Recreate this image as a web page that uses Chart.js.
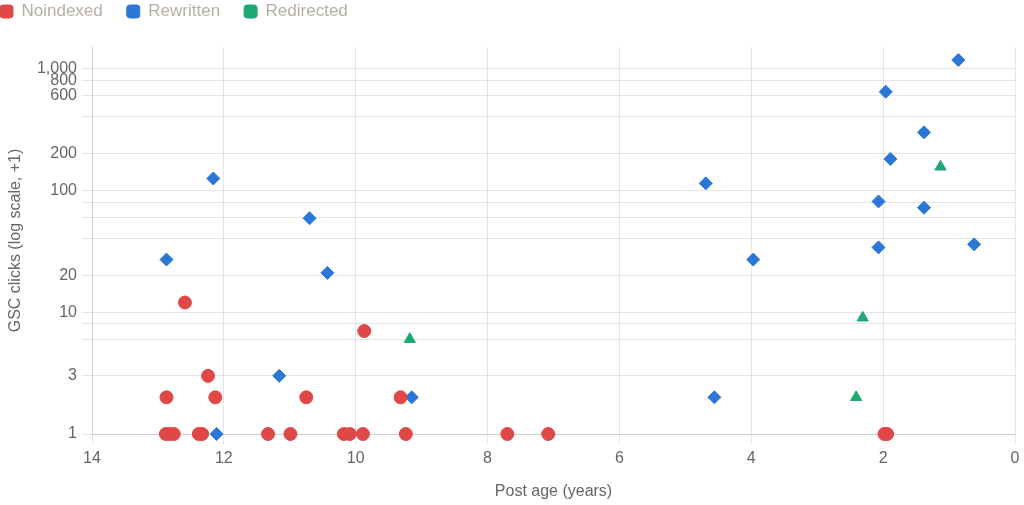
<!DOCTYPE html>
<html>
<head>
<meta charset="utf-8">
<script src="https://cdn.jsdelivr.net/npm/chart.js@4.4.1/dist/chart.umd.min.js"></script>
<style>
  html, body { margin: 0; padding: 0; background: #fff; overflow: hidden; }
  #wrap { position: absolute; left: -24px; top: -21px; width: 1048px; height: 526px; }
</style>
</head>
<body>
<div id="wrap"><canvas id="postsChart"></canvas></div>
<script>
// post age in years, GSC clicks already +1 for the log axis
const noindexedAge = [12.59, 9.87, 12.24, 12.87, 12.13, 10.75, 9.32, 12.88, 12.82, 12.76, 12.38, 12.33, 11.33, 10.99, 10.18, 10.09, 9.89, 9.24, 7.70, 7.08, 1.98, 1.94];
const noindexedClicks = [12, 7, 3, 2, 2, 2, 2, 1, 1, 1, 1, 1, 1, 1, 1, 1, 1, 1, 1, 1, 1, 1];

const rewrittenAge = [12.87, 12.16, 10.70, 10.43, 11.16, 12.11, 9.15, 4.69, 3.97, 4.56, 0.86, 1.96, 1.38, 1.89, 2.07, 1.38, 2.07, 0.62];
const rewrittenClicks = [27, 125, 59, 21, 3, 1, 2, 114, 27, 2, 1173, 643, 299, 181, 81, 72, 34, 36];

const redirectedAge = [9.18, 1.13, 2.31, 2.41];
const redirectedClicks = [6, 156, 9, 2];

const xTicks = [0, 2, 4, 6, 8, 10, 12, 14];

const toPoints = (ages, clicks) => ages.map((x, i) => ({ x, y: clicks[i] }));

// legend sits tight to the top, leave some air under it
const legendGap = {
  id: 'legendGap',
  beforeInit(chart) {
    const fit = chart.legend.fit;
    chart.legend.fit = function () {
      fit.call(this);
      this.height += 17;
    };
  }
};

Chart.defaults.font.family = 'Helvetica, Arial, "Liberation Sans", sans-serif';
Chart.defaults.color = '#666';

new Chart(document.getElementById('postsChart'), {
  type: 'scatter',
  data: {
    datasets: [
      { label: 'Noindexed', data: toPoints(noindexedAge, noindexedClicks), pointStyle: 'circle', backgroundColor: '#e04848', borderColor: '#e04848' },
      { label: 'Rewritten', data: toPoints(rewrittenAge, rewrittenClicks), pointStyle: 'rectRot', backgroundColor: '#2a77d6', borderColor: '#2a77d6' },
      { label: 'Redirected', data: toPoints(redirectedAge, redirectedClicks), pointStyle: 'triangle', backgroundColor: '#1fa874', borderColor: '#1fa874' }
    ]
  },
  options: {
    responsive: true,
    maintainAspectRatio: false,
    animation: false,
    elements: { point: { radius: 6.5, hoverRadius: 7.5, borderWidth: 1 } },
    layout: { padding: { left: 0, right: 9, top: 0, bottom: 0 } },
    plugins: {
      legend: {
        position: 'top',
        align: 'start',
        labels: { color: '#b5b0a4', font: { size: 17 }, boxWidth: 13, boxHeight: 13, padding: 24, useBorderRadius: true, borderRadius: 3 }
      },
      tooltip: { enabled: true }
    },
    scales: {
      x: {
        type: 'linear',
        reverse: true,
        min: 0,
        max: 14,
        afterBuildTicks: (scale) => { scale.ticks = xTicks.map((v) => ({ value: v })); },
        afterFit: (scale) => { scale.height = 71; },
        grid: { tickLength: 10 },
        ticks: { padding: 5, font: { size: 16 } },
        title: { display: true, text: 'Post age (years)', font: { size: 16 }, padding: { top: 4, bottom: 4 } }
      },
      y: {
        type: 'logarithmic',
        afterFit: (scale) => { scale.width = 116; },
        grid: { tickLength: 10 },
        ticks: { padding: 5, font: { size: 16 } },
        title: { display: true, text: 'GSC clicks (log scale, +1)', font: { size: 16 }, padding: { top: 30, bottom: 4 } }
      }
    }
  },
  plugins: [legendGap]
});
</script>
</body>
</html>
